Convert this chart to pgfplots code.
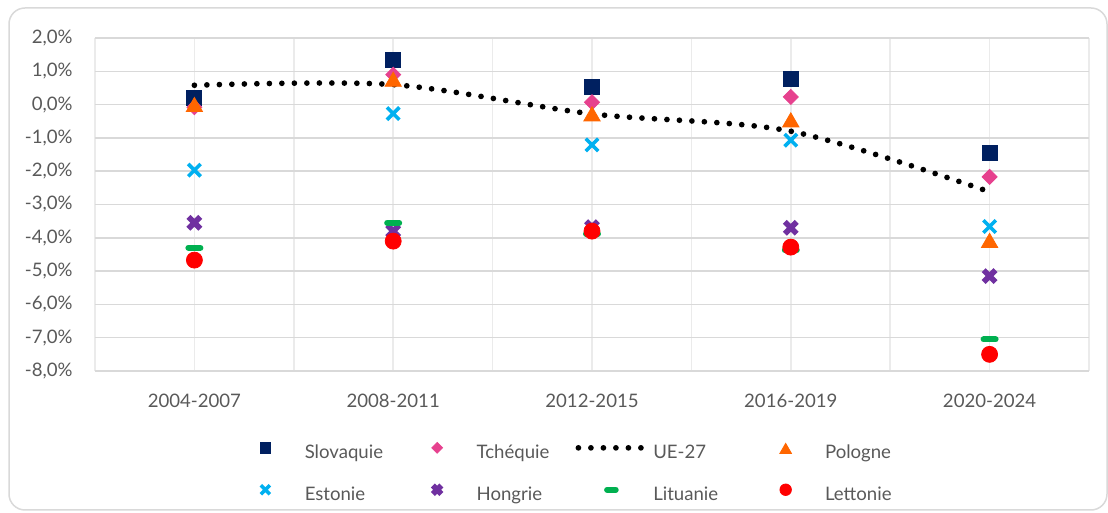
\documentclass[border=0pt]{standalone}
\usepackage{fontspec}
\setmainfont{Lato}
\usepackage{pgfplots}
\pgfplotsset{compat=1.18}
\definecolor{navy}{HTML}{002060}
\definecolor{pinkc}{HTML}{E6418E}
\definecolor{orangec}{HTML}{FF6600}
\definecolor{cyanc}{HTML}{00B0F0}
\definecolor{purplec}{HTML}{7030A0}
\definecolor{greenc}{HTML}{00B050}
\definecolor{redc}{HTML}{FF0000}
\definecolor{txt}{HTML}{595959}
\definecolor{gridH}{HTML}{D9D9D9}
\definecolor{gridV}{HTML}{EBEBEB}
\pgfplotsset{
  mk/.style={only marks,
    legend image code/.code={\path (0pt,0pt) (34pt,6pt);\draw[mark repeat=2,mark phase=2,##1,every mark/.append style={scale=0.72}] plot coordinates {(0pt,3.2pt)(17pt,3.2pt)(34pt,3.2pt)};}},
  lineleg/.style={legend image code/.code={\path (0pt,0pt) (34pt,6pt);\draw[##1] (0.5pt,3.2pt) -- (33pt,3.2pt);}},
}
\begin{document}
\begin{tikzpicture}[x=1pt,y=1pt]
\useasboundingbox (0,0) rectangle (554,256.5);
\draw[color=gridH, line width=0.75pt, rounded corners=8pt] (4.5,1.5) rectangle (553.5,252.5);
\begin{axis}[
  at={(47.5pt,71pt)}, anchor=south west,
  scale only axis, width=497pt, height=166.5pt,
  xmin=-0.5, xmax=4.5, ymin=-8, ymax=2,
  xtick={0,1,2,3,4},
  xticklabels={2004-2007,2008-2011,2012-2015,2016-2019,2020-2024},
  minor xtick={-0.5,0.5,1.5,2.5,3.5,4.5},
  ytick={-8,-7,-6,-5,-4,-3,-2,-1,0,1,2},
  xmajorgrids, xminorgrids, ymajorgrids,
  major x grid style={color=gridV, line width=0.75pt},
  minor x grid style={color=gridV, line width=0.75pt},
  major y grid style={color=gridH, line width=0.75pt},
  axis line style={draw=none},
  major tick length=0pt, minor tick length=0pt,
  tick style={draw=none},
  /pgf/number format/assume math mode=true,
  yticklabel={\pgfmathprintnumber[fixed,fixed zerofill,precision=1,use comma]{\tick}\%},
  ticklabel style={font=\fontsize{9.3}{11}\selectfont, text=txt},
  yticklabel style={anchor=east, inner sep=0pt, xshift=-11pt},
  xticklabel style={anchor=north, inner sep=0pt, yshift=-11.5pt},
  legend columns=4,
  legend style={at={(0.1368,-0.2054)}, anchor=north west, draw=none, fill=none,
    inner sep=0pt, outer sep=0pt,
    font=\fontsize{9.3}{11}\selectfont, text=txt,
    nodes={inner sep=0pt, text height=6.5pt, text depth=2pt},
    /tikz/every odd column/.style={column sep=2.5pt},
    /tikz/every even column/.style={column sep=0pt},
    /tikz/row sep=10.5pt},
]
% Slovaquie
\addplot[mk, color=navy, mark=square*, mark size=3.75pt, mark options={draw=none}]
  coordinates {(0,0.21) (1,1.35) (2,0.53) (3,0.77) (4,-1.45)};
\addlegendentry{\makebox[49pt][l]{Slovaquie}}
% Tchequie
\addplot[mk, color=pinkc, mark=square*, mark size=2.65pt, mark options={draw=none, rotate=45}]
  coordinates {(0,-0.08) (1,0.9) (2,0.07) (3,0.23) (4,-2.17)};
\addlegendentry{\makebox[49pt][l]{Tchéquie}}
% UE-27
\addplot[lineleg, color=black, smooth, line width=2.85pt, line cap=round, dash pattern=on 0pt off 6.25pt]
  coordinates {(0,0.58) (1,0.6) (2,-0.28) (3,-0.8) (4,-2.62)};
\addlegendentry{\makebox[49pt][l]{UE-27}}
% Pologne
\addplot[mk, color=orangec, mark=triangle*, mark size=4.7pt, mark options={draw=none, yshift=-1.15pt}]
  coordinates {(0,0.0) (1,0.76) (2,-0.28) (3,-0.46) (4,-4.08)};
\addlegendentry{\makebox[49pt][l]{Pologne}}
% Estonie
\addplot[mk, color=cyanc, mark=x, mark size=4.4pt, mark options={line width=1.8pt}]
  coordinates {(0,-1.97) (1,-0.27) (2,-1.21) (3,-1.07) (4,-3.66)};
\addlegendentry{\makebox[49pt][l]{Estonie}}
% Hongrie
\addplot[mk, color=purplec, mark=x, mark size=4.2pt, mark options={line width=2.8pt}]
  coordinates {(0,-3.55) (1,-3.8) (2,-3.68) (3,-3.7) (4,-5.15)};
\addlegendentry{\makebox[49pt][l]{Hongrie}}
% Lituanie
\addplot[mk, color=greenc, mark=-, mark size=3pt, mark options={line width=3pt, line cap=round}]
  coordinates {(0,-4.3) (1,-3.55) (2,-3.88) (3,-4.37) (4,-7.05)};
\addlegendentry{\makebox[49pt][l]{Lituanie}}
% Lettonie
\addplot[mk, color=redc, mark=*, mark size=4pt, mark options={draw=none}]
  coordinates {(0,-4.67) (1,-4.1) (2,-3.8) (3,-4.28) (4,-7.5)};
\addlegendentry{\makebox[49pt][l]{Lettonie}}
\end{axis}
\end{tikzpicture}
\end{document}
